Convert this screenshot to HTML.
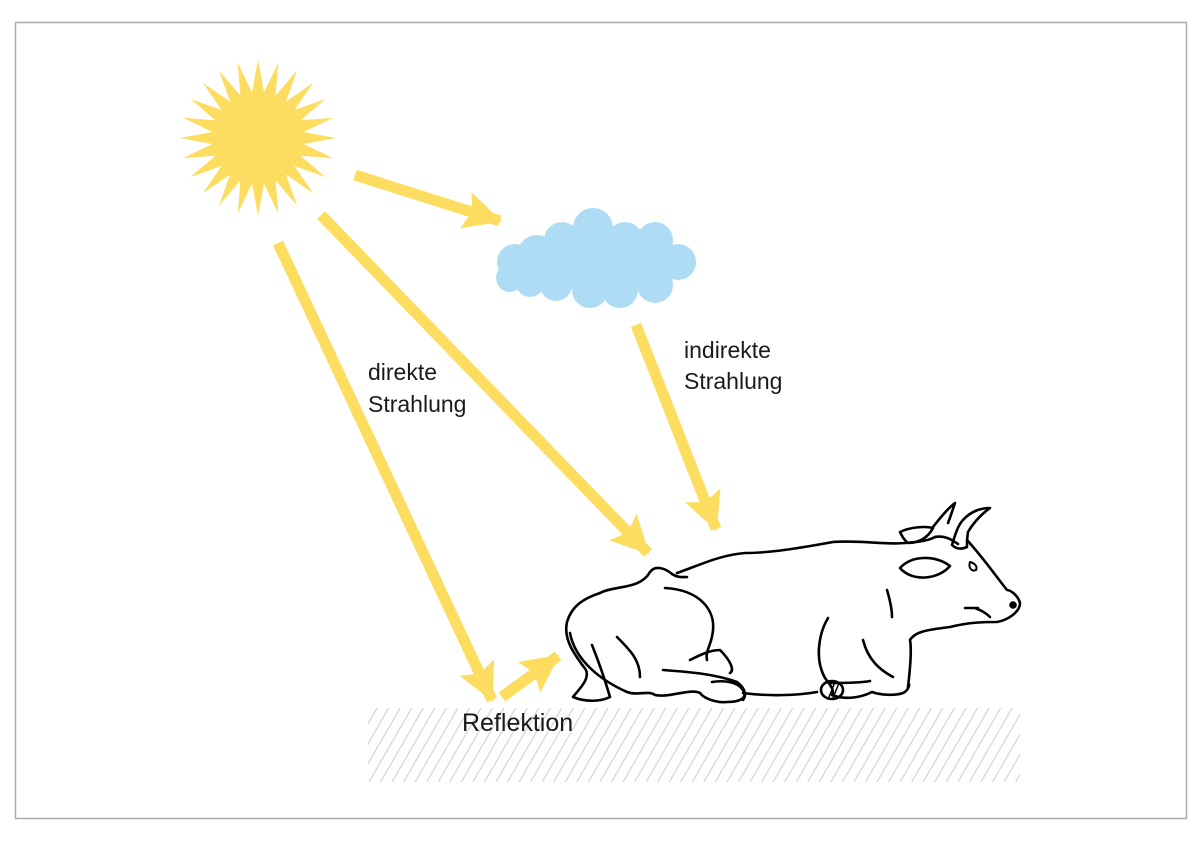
<!DOCTYPE html>
<html><head><meta charset="utf-8"><style>
html,body{margin:0;padding:0;background:#fff;}
svg{display:block;}
text{font-family:"Liberation Sans",sans-serif;fill:#1a1a1a;}
</style></head><body>
<svg width="1200" height="843" viewBox="0 0 1200 843" xmlns="http://www.w3.org/2000/svg">
<defs>
<pattern id="h" patternUnits="userSpaceOnUse" width="10" height="10" patternTransform="rotate(30)">
<line x1="0" y1="0" x2="0" y2="10" stroke="#ccd1d6" stroke-width="2.2"/>
</pattern>
<marker id="a" markerUnits="userSpaceOnUse" markerWidth="40" markerHeight="40" refX="36" refY="19" orient="auto">
<path d="M0,0 L38,19 L0,38 L7,19 Z" fill="#fddd60"/>
</marker>
</defs>
<rect x="15.5" y="22.5" width="1171" height="796" fill="#fff" stroke="#aaa" stroke-width="1.5"/>
<rect x="368" y="708" width="652" height="74" fill="url(#h)"/>
<polygon id="sun" fill="#fddd60" points=""/>
<g fill="#aedcf5">
<circle cx="515" cy="262" r="18"/><circle cx="510" cy="278" r="14"/><circle cx="537" cy="255" r="20"/>
<circle cx="562" cy="240" r="18"/><circle cx="593" cy="228" r="20"/><circle cx="625" cy="240" r="18"/>
<circle cx="655" cy="240" r="18"/><circle cx="678" cy="262" r="18"/><circle cx="655" cy="285" r="18"/>
<circle cx="620" cy="290" r="18"/><circle cx="590" cy="290" r="18"/><circle cx="556" cy="285" r="16"/>
<circle cx="530" cy="283" r="14"/><ellipse cx="600" cy="265" rx="85" ry="26"/>
</g>
<g stroke="#fddd60" stroke-width="11" fill="none" marker-end="url(#a)">
<line x1="355" y1="175" x2="500" y2="221"/>
<line x1="321" y1="215" x2="648" y2="553"/>
<line x1="278" y1="243" x2="492" y2="700"/>
<line x1="636" y1="325" x2="716" y2="529"/>
<line x1="502" y1="697" x2="558" y2="656"/>
</g>
<text x="368" y="380" font-size="23">direkte</text>
<text x="368" y="412" font-size="23">Strahlung</text>
<text x="684" y="358" font-size="23">indirekte</text>
<text x="684" y="389" font-size="23">Strahlung</text>
<text x="462" y="731" font-size="25">Reflektion</text>
<g fill="none" stroke="#000" stroke-width="2.6" stroke-linecap="round" stroke-linejoin="round">
<path d="M600,593 C585,598 572,605 567,622 C563,640 575,655 586,670 C590,680 578,690 573,697 C585,702 600,702 610,697 C605,680 598,660 592,645"/>
<path d="M570,633 C575,660 600,680 627,692 C637,696 648,690 655,695 C670,698 690,688 700,693 C705,700 720,703 727,702 C740,702 748,698 743,690 C738,682 725,680 712,682"/>
<path d="M600,593 C615,585 640,590 650,572 C655,565 665,568 672,574 C678,578 684,577 687,577"/>
<path d="M677,573 C700,565 720,555 745,553 C770,553 800,548 833,542 C860,540 885,545 905,543 C920,542 930,540 935,537"/>
<path d="M665,588 C700,590 715,610 713,630 C712,645 705,650 707,660"/>
<path d="M617,637 C630,650 640,660 640,677"/>
<path d="M663,670 C690,672 715,674 737,682 C745,688 747,695 743,700"/>
<path d="M690,660 C700,655 710,650 720,650 C730,660 735,670 730,673"/>
<path d="M743,693 C765,696 795,696 817,692"/>
<path d="M828,618 C818,635 815,660 825,678 C830,685 835,690 832,695 C845,700 860,698 872,692 C880,695 895,696 903,693 C910,690 910,680 908,687"/>
<ellipse cx="832" cy="690" rx="11" ry="9"/>
<path d="M829,697 L835,682 M833,698 L839,683" stroke-width="1.5"/>
<path d="M830,683 C850,683 865,682 870,681"/>
<path d="M863,640 C868,660 880,670 893,677"/>
<path d="M887,590 C890,600 892,610 892,617"/>
<path d="M908,687 C910,670 912,650 910,640 C915,632 925,630 950,627 C970,622 985,622 997,622 C1008,620 1020,612 1020,603 C1018,595 1010,590 1007,590 C995,575 985,560 967,540"/>
<path d="M990,617 C985,612 980,610 975,608 M965,608 L978,608"/>
<circle cx="1013" cy="605" r="2.5" fill="#000"/>
<path d="M900,568 C912,555 935,555 950,566 C938,580 912,582 900,568 Z"/>
<path d="M970,562 C968,568 972,572 976,570 C978,566 974,563 970,562 Z" stroke-width="2"/>
<path d="M900,532 C910,527 925,526 933,528 C928,538 918,543 908,543 C904,540 902,536 900,532 Z"/>
<path d="M933,527 C940,518 948,508 955,503 C952,512 950,518 948,523"/>
<path d="M952,545 C955,535 958,525 963,520 C970,512 980,508 990,508 C980,515 972,525 968,532 C967,538 967,544 967,547 C960,550 955,548 952,545"/>
<path d="M935,537 C945,535 952,540 958,544"/>
</g>
<script>
var p=[],cx=258,cy=138,R=78,r=46,n=24;
for(var i=0;i<2*n;i++){var a=Math.PI*i/n-Math.PI/2,rr=i%2?r:R;p.push((cx+rr*Math.cos(a)).toFixed(1)+","+(cy+rr*Math.sin(a)).toFixed(1));}
document.getElementById("sun").setAttribute("points",p.join(" "));
</script>
</svg>
</body></html>
